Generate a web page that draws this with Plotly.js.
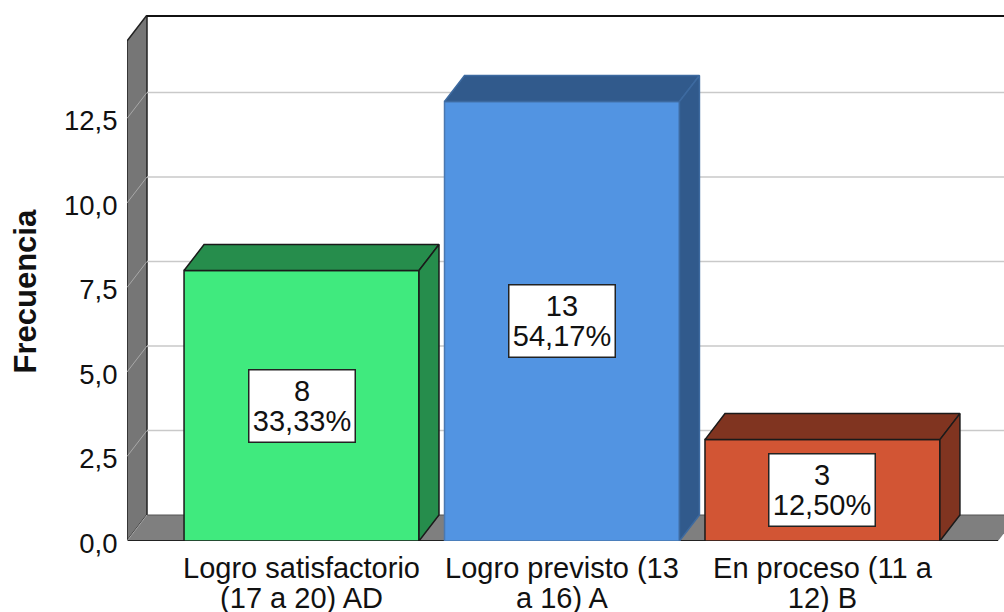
<!DOCTYPE html>
<html>
<head>
<meta charset="utf-8">
<script src="https://cdn.plot.ly/plotly-3.0.1.min.js"></script>
<style>
	html, body { margin: 0; padding: 0; background: #fff; }
	#chart { width: 1004px; height: 612px; }
</style>
</head>
<body>
<div id="chart"></div>
<script>
const categories = [
	["Logro satisfactorio", "(17 a 20) AD"],
	["Logro previsto (13", "a 16) A"],
	["En proceso (11 a", "12) B"]
];
const counts = [8, 13, 3];
const percents = [33.33, 54.17, 12.50];
const yTicks = [0, 2.5, 5, 7.5, 10, 12.5];

const frontColors = ["#40EA7E", "#5294E2", "#D25534"];
const sideColors = ["#268D4C", "#315A8C", "#803420"];
const edgeColors = ["#1a1a1a", "#4a78b0", "#1a1a1a"];
const depthEdges = ["#1a1a1a", "#3d6aa0", "#1a1a1a"];

// plot area is 877x526 px, one category = 260.5 px, one unit = 33.8 px
const xRange = [-0.67, 2.697];
const yRange = [0, 15.56];
const barWidth = 0.902;
const depthX = 0.0768;
const depthY = 0.769;
const wallTop = yRange[1];
const wallFront = wallTop - depthY;
const floorEnd = 2.674;

const positions = counts.map((c, i) => i);
const spanLine = (text, size) => `<span style="font-size:${size}px">${text}</span>`;

const front = {
	x: positions,
	y: counts,
	type: "bar",
	width: barWidth,
	hoverinfo: "skip",
	marker: {
		color: frontColors,
		line: { color: edgeColors, width: 1.5 }
	}
};

const depthTraces = [];
counts.forEach((v, i) => {
	const l = i - barWidth / 2;
	const r = i + barWidth / 2;
	const faces = [
		{ x: [l, l + depthX, r + depthX, r, l], y: [v, v + depthY, v + depthY, v, v] },
		{ x: [r, r + depthX, r + depthX, r, r], y: [v, v + depthY, depthY, 0, v] }
	];
	faces.forEach(f => depthTraces.push({
		x: f.x,
		y: f.y,
		type: "scatter",
		mode: "lines",
		fill: "toself",
		fillcolor: sideColors[i],
		hoverinfo: "skip",
		line: { color: depthEdges[i], width: 1.5 }
	}));
});

const pathOf = pts => "M" + pts.map(p => p.join(",")).join("L") + "Z";
const wallShape = (pts, color) => ({
	type: "path",
	xref: "x",
	yref: "y",
	layer: "below",
	path: pathOf(pts),
	fillcolor: color,
	line: { color: "#222", width: 1.5 }
});
const lineShape = (x0, y0, x1, y1, color, width) => ({
	type: "line",
	xref: "x",
	yref: "y",
	layer: "below",
	x0, y0, x1, y1,
	line: { color, width }
});

const backLeft = xRange[0] + depthX;
const shapes = [
	wallShape([[xRange[0], 0], [xRange[0], wallFront], [backLeft, wallTop], [backLeft, depthY]], "#767676"),
	{ ...wallShape([[xRange[0], 0], [floorEnd, 0], [floorEnd + depthX, depthY], [backLeft, depthY]], "#7f7f7f"), line: { width: 0 } },
	lineShape(xRange[0], 0, floorEnd, 0, "#222", 2),
	lineShape(backLeft, depthY, xRange[1], depthY, "#555", 1),
	lineShape(backLeft, wallTop - 0.03, xRange[1], wallTop - 0.03, "#111", 2)
];
yTicks.forEach(t => {
	if (t > 0) shapes.push(lineShape(backLeft, t + depthY, xRange[1], t + depthY, "#c9c9c9", 1.5));
	shapes.push(lineShape(xRange[0], t, backLeft, t + depthY, "#a8a8a8", 1));
});

const annotations = counts.map((c, i) => ({
	x: i,
	y: c / 2,
	xref: "x",
	yref: "y",
	text: spanLine(c, 29) + "<br>" + spanLine(percents[i].toFixed(2).replace(".", ",") + "%", 29),
	showarrow: false,
	width: 105,
	height: 71,
	font: { family: "Liberation Sans", size: 22.5, color: "#111" },
	bgcolor: "#fff",
	bordercolor: "#222",
	borderwidth: 1.5,
	borderpad: 0
}));
annotations.push({
	x: (25 - 127) / 877,
	y: (541 - 291.5) / 526,
	xref: "paper",
	yref: "paper",
	xanchor: "center",
	yanchor: "middle",
	text: "<b>Frecuencia</b>",
	textangle: -90,
	showarrow: false,
	font: { family: "Liberation Sans", size: 31, color: "#111" }
});

const layout = {
	width: 1004,
	height: 612,
	margin: { l: 127, r: 0, t: 15, b: 71 },
	showlegend: false,
	paper_bgcolor: "#fff",
	plot_bgcolor: "#fff",
	font: { family: "Liberation Sans", color: "#111" },
	xaxis: {
		range: xRange,
		tickmode: "array",
		tickvals: positions,
		ticktext: categories.map(c => c.map(t => spanLine(t, 29)).join("<br>")),
		tickfont: { family: "Liberation Sans", size: 23, color: "#111" },
		showgrid: false,
		zeroline: false,
		showline: false,
		ticks: "outside",
		ticklen: 8,
		tickcolor: "rgba(0,0,0,0)",
		tickangle: 0,
		automargin: false
	},
	yaxis: {
		range: yRange,
		tickmode: "array",
		tickvals: yTicks,
		tickformat: ".1f",
		tickfont: { family: "Liberation Sans", size: 27.5, color: "#111" },
		showgrid: false,
		zeroline: false,
		showline: false,
		ticks: "outside",
		ticklen: 3,
		tickcolor: "rgba(0,0,0,0)",
		ticklabelshift: 2,
		automargin: false
	},
	separators: ",.",
	shapes,
	annotations
};

Plotly.newPlot("chart", [front, ...depthTraces], layout, { displayModeBar: false });
</script>
</body>
</html>
